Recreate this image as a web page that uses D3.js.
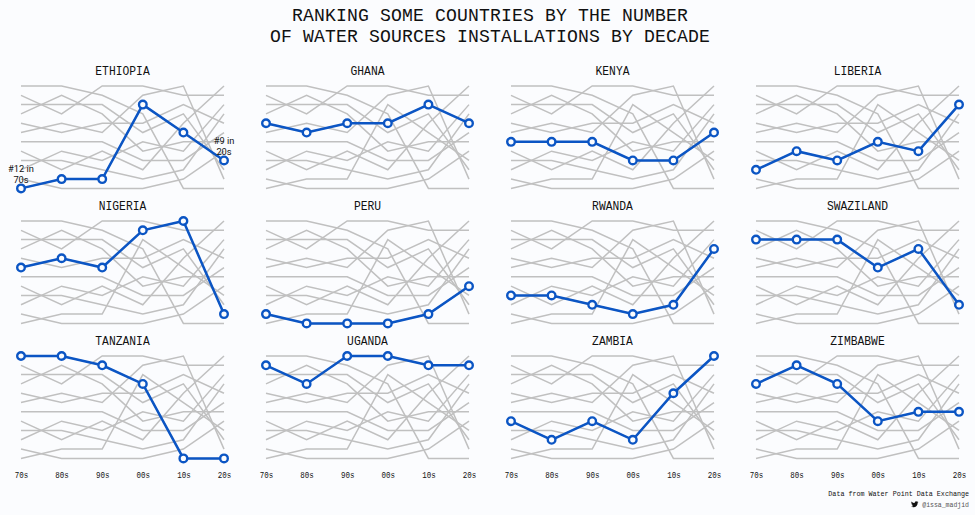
<!DOCTYPE html>
<html><head><meta charset="utf-8">
<script src="https://cdn.jsdelivr.net/npm/d3@7"></script>
<style>html,body{margin:0;padding:0;background:#fbfcfe;overflow:hidden}svg{display:block}text{font-family:"Liberation Mono",monospace;fill:#111}</style>
</head><body><div id="chart"></div>
<script>
const titleLines = ["RANKING SOME COUNTRIES BY THE NUMBER", "OF WATER SOURCES INSTALLATIONS BY DECADE"];
const decades = ["70s","80s","90s","00s","10s","20s"];
const countries = ["ETHIOPIA","GHANA","KENYA","LIBERIA","NIGERIA","PERU","RWANDA","SWAZILAND","TANZANIA","UGANDA","ZAMBIA","ZIMBABWE"];
const ethiopia = [12,11,11,3,6,9];
const ghana = [5,6,5,5,3,5];
const kenya = [7,7,7,9,9,6];
const liberia = [10,8,9,7,8,3];
const nigeria = [6,5,6,2,1,11];
const peru = [11,12,12,12,11,8];
const rwanda = [9,9,10,11,10,4];
const swaziland = [3,3,3,6,4,10];
const tanzania = [1,1,2,4,12,12];
const uganda = [2,4,1,1,2,2];
const zambia = [8,10,8,10,5,1];
const zimbabwe = [4,2,4,8,7,7];
const ranks = [ethiopia,ghana,kenya,liberia,nigeria,peru,rwanda,swaziland,tanzania,uganda,zambia,zimbabwe];
const sourceText = "Data from Water Point Data Exchange";
const handle = "@issa_madjid";
const birdPath = "M23.95 4.57a10 10 0 01-2.82.77 4.96 4.96 0 002.16-2.72c-.95.55-2 .95-3.12 1.18a4.92 4.92 0 00-8.38 4.48C7.69 8.1 4.07 6.13 1.64 3.16a4.82 4.82 0 00-.66 2.47c0 1.71.87 3.21 2.19 4.1a4.9 4.9 0 01-2.23-.61v.06a4.92 4.92 0 003.95 4.83 5 5 0 01-2.21.08 4.94 4.94 0 004.6 3.42A9.87 9.87 0 010 19.54a14 14 0 007.56 2.21c9.05 0 14-7.5 14-13.98 0-.21 0-.42-.02-.63a9.94 9.94 0 002.46-2.55z";

const W = 975, H = 515, blue = "#0b55c4", grey = "#c0c0c0", squeeze = 0.9;
const svg = d3.select("#chart").append("svg").attr("width",W).attr("height",H).attr("viewBox",[0,0,W,H]);
svg.append("rect").attr("width",W).attr("height",H).attr("fill","#fbfcfe");

// monospaced text set to a given advance per character, slightly condensed
function mono(sel, adv){
  sel.attr("font-size", adv/0.6/squeeze)
     .attr("transform", function(){
        const px = +this.getAttribute("x")||0, py = +this.getAttribute("y")||0;
        this.setAttribute("x",0); this.setAttribute("y",0);
        return `translate(${px},${py}) scale(${squeeze},1)`;
     });
  return sel;
}

svg.selectAll("text.title").data(titleLines).join("text").attr("class","title")
  .attr("x",490).attr("y",(d,i)=>21+i*20.5).attr("text-anchor","middle")
  .attr("font-size",18.1).attr("letter-spacing",0.14).text(d=>d);

const colX = d3.scalePoint().domain(d3.range(4)).range([21,756]);
const rowY = d3.scalePoint().domain(d3.range(3)).range([86,356]);
const x = d3.scalePoint().domain(decades).range([0,203]);
const y = d3.scaleLinear().domain([1,12]).range([0,102.4]);
const line = d3.line().x((d,i)=>x(decades[i])).y(d=>y(d));

countries.forEach((name,ci)=>{
  const col = ci%4, row = Math.floor(ci/4);
  const g = svg.append("g").attr("transform",`translate(${colX(col)},${rowY(row)})`);
  g.append("text").attr("x",101.5).attr("y",-11).attr("text-anchor","middle").text(name).call(mono,6.8);
  g.selectAll("path.bg").data(ranks).join("path").attr("class","bg")
    .attr("d",line).attr("fill","none").attr("stroke",grey).attr("stroke-width",1.5);
  g.append("path").attr("d",line(ranks[ci])).attr("fill","none").attr("stroke",blue).attr("stroke-width",2.5);
  g.selectAll("circle").data(ranks[ci]).join("circle")
    .attr("cx",(d,i)=>x(decades[i])).attr("cy",d=>y(d)).attr("r",3.8)
    .attr("fill","#fbfcfe").attr("stroke",blue).attr("stroke-width",2.4);
  if(row===2){
    const ax = d3.axisBottom(x).tickSize(0).tickPadding(0);
    const a = g.append("g").attr("transform",`translate(0,${102.4})`).call(ax);
    a.select(".domain").remove();
    a.selectAll("text").attr("y",19.5).attr("dy",0)
      .style("font-family",'"Liberation Mono",monospace').call(mono,4.5);
  }
  if(ci===0){
    const vals = ranks[0];
    [0,5].forEach(i=>{
      const t = g.append("text").attr("text-anchor","middle").attr("font-size",9.3)
        .style("font-family",'Roboto,sans-serif');
      const tx = x(decades[i]), ty = y(vals[i]);
      t.append("tspan").attr("x",tx).attr("y",ty-16).text(`#${vals[i]} in`);
      t.append("tspan").attr("x",tx).attr("y",ty-5.5).text(decades[i]);
    });
  }
});

svg.append("text").attr("x",969).attr("y",496).attr("text-anchor","end").text(sourceText).call(mono,4.03);
svg.append("text").attr("x",969).attr("y",507).attr("text-anchor","end").style("fill","#555").text(handle).call(mono,3.9);
svg.append("path").attr("d",birdPath).attr("transform","translate(911,500.5) scale(0.31)").attr("fill","#111");
</script></body></html>
